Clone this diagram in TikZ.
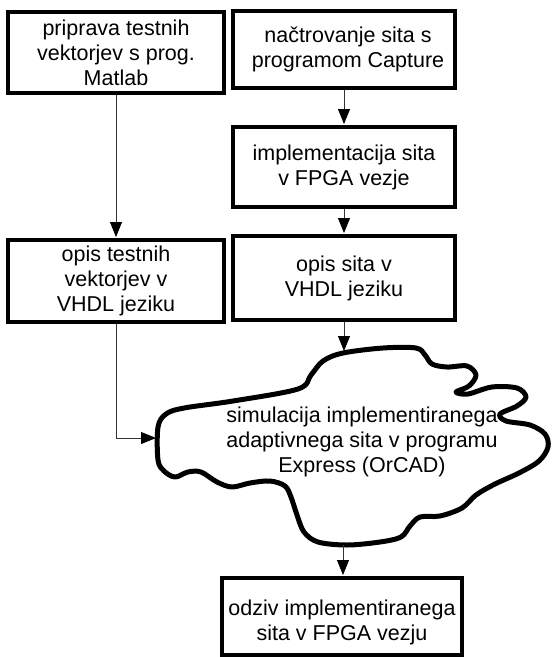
\documentclass[tikz,border=0pt]{standalone}
\usepackage{fontspec}
\setmainfont{Liberation Sans}
\usetikzlibrary{arrows.meta,calc}
\begin{document}
\begin{tikzpicture}[x=1pt,y=-1pt,
  box/.style={draw=black,line width=4pt,fill=white,align=center,inner sep=0pt,
    font=\fontsize{21.5}{25}\selectfont},
  txt/.style={align=center,inner sep=0pt,font=\fontsize{21.5}{25}\selectfont},
  conn/.style={draw=black!80,line width=0.9pt},
  arr/.style={conn,-{Triangle[length=15pt,width=12pt,color=black]},shorten >=1pt}]
\useasboundingbox (0,0) rectangle (552,657);
\fill[white] (0,0) rectangle (552,657);

\node[box,minimum width=216pt,minimum height=81pt] (box1) at (116,52.5)
  {priprava testnih\\vektorjev s prog.\\Matlab};
\node[box,minimum width=222pt,minimum height=77pt] (box2) at (344,49.5)
  {\hspace*{8pt}načtrovanje sita s\\\hspace*{8pt}programom Capture};
\node[box,minimum width=222pt,minimum height=80pt] (box3) at (344,167)
  {implementacija sita\\v FPGA vezje};
\node[box,minimum width=216pt,minimum height=82pt] (box4) at (116,281)
  {opis testnih\\vektorjev v\\VHDL jeziku};
\node[box,minimum width=222pt,minimum height=84pt] (box5) at (344,278)
  {opis sita v\\VHDL jeziku};
\node[box,minimum width=240pt,minimum height=77pt] (box6) at (342,616.5) {};
\node[txt] (box6t) at (342,622) {odziv implementiranega\\sita v FPGA vezju};

% cloud
\draw[line width=5pt,line join=round] plot[smooth cycle,tension=0.55] coordinates {
(158,427) (166,414) (184,408) (233,401) (298,389) (311,375) (323,361) (343,353)
(383,348) (416,348) (425,355) (432,364) (447,367) (467,366) (476,375) (469,386)
(456,392) (468,394) (492,387) (517,388) (526,397) (517,406) (500,414) (506,421)
(530,425) (545,434) (548,447) (539,461) (519,473) (495,484) (476,495) (462,508)
(440,516) (420,517) (410,526) (401,537) (380,542) (347,545) (318,542) (304,532)
(297,515) (291,497) (285,486) (270,481) (250,483) (232,487) (217,482) (201,472)
(188,472) (175,477) (164,471) (158,460)};
\node[txt] (cloudt) at (362,442)
  {simulacija implementiranega\\adaptivnega sita v programu\\Express (OrCAD)};
\coordinate (cloudtop) at (344,352);
\coordinate (cloudleft) at (157,438);
\coordinate (cloudbot) at (343,545);

% connectors
\draw[arr] (box1.south) -- (box4.north);
\draw[arr] (box2.south) -- (box3.north);
\draw[arr] (box3.south) -- (box5.north);
\draw[arr] (box5.south) -- (cloudtop);
\draw[arr] (box4.south) |- (cloudleft);
\draw[arr] (cloudbot) -- (cloudbot |- box6.north);
\end{tikzpicture}
\end{document}
